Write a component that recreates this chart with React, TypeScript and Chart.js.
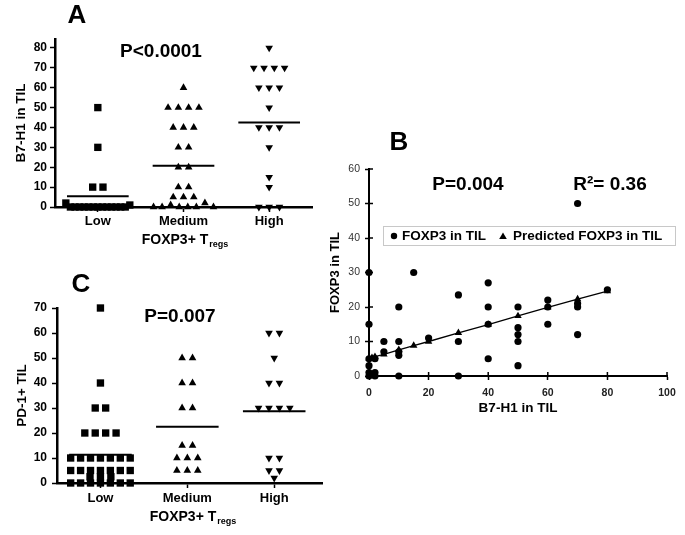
import React, { useEffect, useRef } from 'react';
import { Chart, registerables } from 'chart.js';
Chart.register(...registerables);

const FONT = "'Liberation Sans', Arial, Helvetica, sans-serif";

const groupLabels = ['Low', 'Medium', 'High'];

// Panel A: B7-H1 in TIL by FOXP3+ Treg group
const aLow = [2, 50, 30, 10, 10, 0, 0, 0, 0, 0, 0, 0, 0, 0, 0, 0, 0, 0, 1];
const aMedium = [60, 50, 50, 50, 50, 40, 40, 40, 30, 30, 20, 20, 10, 10, 5, 5, 5, 0, 0, 1, 0, 0, 0, 2, 0];
const aHigh = [80, 70, 70, 70, 70, 60, 60, 60, 50, 40, 40, 40, 30, 15, 10, 0, 0, 0];
const aYTicks = [0, 10, 20, 30, 40, 50, 60, 70, 80];

// Panel C: PD-1+ TIL by FOXP3+ Treg group
const cLow = [70, 40, 30, 30, 20, 20, 20, 20, 10, 10, 10, 10, 10, 10, 10, 5, 5, 5, 5, 5, 5, 5, 2.5, 2.5, 2.5, 0, 0, 0, 0, 0, 0, 0];
const cMedium = [50, 50, 40, 40, 30, 30, 15, 15, 10, 10, 10, 5, 5, 5];
const cHigh = [60, 60, 50, 40, 40, 30, 30, 30, 30, 10, 10, 5, 5, 2];
const cYTicks = [0, 10, 20, 30, 40, 50, 60, 70];

// Panel B: FOXP3 vs B7-H1 in TIL
const b7h1 = [0, 0, 0, 2, 0, 0, 2, 0, 2, 5, 5, 10, 10, 10, 10, 10, 15, 20, 30, 30, 30, 40, 40, 40, 40, 50, 50, 50, 50, 50, 60, 60, 60, 70, 70, 70, 70, 80];
const foxp3 = [30, 15, 5, 5, 3, 1, 1, 0, 0, 10, 7, 20, 10, 7, 6, 0, 30, 11, 23.5, 10, 0, 27, 20, 15, 5, 20, 14, 12, 10, 3, 22, 20, 15, 50, 21, 20, 12, 25];
const predB7 = [0, 1, 2, 5, 10, 15, 20, 30, 40, 50, 60, 70, 80];
const predFoxp3 = [5.1, 5.3, 5.6, 6.3, 7.6, 8.8, 10, 12.5, 14.9, 17.4, 19.9, 22.3, 24.6];
const bXTicks = [0, 20, 40, 60, 80, 100];
const bYTicks = [0, 10, 20, 30, 40, 50, 60];

function swarm(values: number[], center: number, step0: number, spread: number) {
  const order = values.map((_, i) => i).sort((a, b) => values[a] - values[b]);
  const rows: number[][] = [];
  let last = -Infinity;
  for (const i of order) {
    if (rows.length && values[i] - last <= 2) rows[rows.length - 1].push(i);
    else rows.push([i]);
    last = values[i];
  }
  const pts: { x: number; y: number }[] = [];
  for (const row of rows) {
    row.sort((a, b) => a - b);
    const n = row.length;
    const step = Math.min(step0, spread / n);
    row.forEach((idx, k) => pts.push({ x: center + (k - (n - 1) / 2) * step, y: values[idx] }));
  }
  return pts;
}

const mean = (a: number[]) => a.reduce((s, v) => s + v, 0) / a.length;

type TextItem = { text: string; x: number; y: number; size: number; weight?: string };

function drawTexts(ctx: CanvasRenderingContext2D, items: TextItem[]) {
  for (const t of items) {
    ctx.font = `${t.weight ?? 'bold'} ${t.size}px ${FONT}`;
    ctx.fillStyle = '#000';
    ctx.textAlign = 'center';
    ctx.textBaseline = 'middle';
    ctx.fillText(t.text, t.x, t.y);
  }
}

function drawSubTitle(ctx: CanvasRenderingContext2D, main: string, sub: string, cx: number, cy: number) {
  const big = `bold 14px ${FONT}`;
  const small = `bold 9px ${FONT}`;
  ctx.font = big;
  const w1 = ctx.measureText(main).width;
  ctx.font = small;
  const w2 = ctx.measureText(sub).width;
  const x0 = cx - (w1 + w2 + 1) / 2;
  ctx.fillStyle = '#000';
  ctx.textAlign = 'left';
  ctx.textBaseline = 'middle';
  ctx.font = big;
  ctx.fillText(main, x0, cy);
  ctx.font = small;
  ctx.fillText(sub, x0 + w1 + 1, cy + 5);
}

type DotOpts = {
  data: number[][];
  yMax: number;
  xMax: number;
  yTicks: number[];
  yTitle: string;
  yTitlePad: number;
  yTickPad: number;
  xTickPad: number;
  yW: number;
  xH: number;
  pad: { top: number; right: number; bottom: number };
  texts: TextItem[];
  xTitle: { x: number; y: number };
};

function dotPlotConfig(o: DotOpts): any {
  const styles = [
    { pointStyle: 'rect', pointRadius: 5.2, pointRotation: 0 },
    { pointStyle: 'triangle', pointRadius: 4.4, pointRotation: 0 },
    { pointStyle: 'triangle', pointRadius: 4.4, pointRotation: 180 },
  ];
  const datasets: any[] = [];
  o.data.forEach((vals, gi) => {
    const c = gi + 1;
    datasets.push({
      type: 'scatter',
      data: swarm(vals, c, 0.12, 0.8),
      ...styles[gi],
      backgroundColor: '#000',
      borderColor: '#000',
      borderWidth: 0,
      clip: false,
    });
  });
  o.data.forEach((vals, gi) => {
    const c = gi + 1;
    const m = mean(vals);
    datasets.push({
      type: 'line',
      data: [{ x: c - 0.36, y: m }, { x: c + 0.36, y: m }],
      borderColor: '#000',
      borderWidth: 2,
      pointRadius: 0,
      clip: false,
    });
  });
  return {
    type: 'scatter',
    data: { datasets },
    options: {
      animation: false,
      responsive: false,
      maintainAspectRatio: false,
      events: [],
      layout: { padding: { left: 0, top: o.pad.top, right: o.pad.right, bottom: o.pad.bottom } },
      plugins: { legend: { display: false }, tooltip: { enabled: false } },
      scales: {
        x: {
          type: 'linear',
          min: 0.5,
          max: o.xMax,
          afterBuildTicks: (s: any) => { s.ticks = groupLabels.map((_, i) => ({ value: i + 1 })); },
          afterFit: (s: any) => { s.height = o.xH; },
          ticks: {
            callback: (v: any) => groupLabels[Math.round(v) - 1] ?? '',
            font: { family: FONT, size: 13, weight: 'bold' },
            color: '#000',
            padding: o.xTickPad,
            maxRotation: 0,
            autoSkip: false,
          },
          grid: { drawOnChartArea: false, drawTicks: true, tickLength: 5, tickColor: '#000', tickWidth: 1.5 },
          border: { color: '#000', width: 2.5 },
        },
        y: {
          type: 'linear',
          min: 0,
          max: o.yMax,
          afterBuildTicks: (s: any) => { s.ticks = o.yTicks.map((v) => ({ value: v })); },
          afterFit: (s: any) => { s.width = o.yW; },
          ticks: {
            font: { family: FONT, size: 12, weight: 'bold' },
            color: '#000',
            padding: o.yTickPad,
          },
          grid: { drawOnChartArea: false, drawTicks: true, tickLength: 5, tickColor: '#000', tickWidth: 1.5 },
          border: { color: '#000', width: 2.5 },
          title: {
            display: true,
            text: o.yTitle,
            color: '#000',
            font: { family: FONT, size: 13.5, weight: 'bold' },
            padding: { top: o.yTitlePad, bottom: 0 },
          },
        },
      },
    },
    plugins: [
      {
        id: 'panelTexts',
        afterDraw(chart: any) {
          const ctx = chart.ctx as CanvasRenderingContext2D;
          ctx.save();
          drawTexts(ctx, o.texts);
          drawSubTitle(ctx, 'FOXP3+ T', 'regs', o.xTitle.x, o.xTitle.y);
          ctx.restore();
        },
      },
    ],
  };
}

function scatterConfig(): any {
  const circles = b7h1.map((x, i) => ({ x, y: foxp3[i] }));
  const predicted = predB7.map((x, i) => ({ x, y: predFoxp3[i] }));
  return {
    type: 'scatter',
    data: {
      datasets: [
        {
          label: 'FOXP3 in TIL',
          data: circles,
          pointStyle: 'circle',
          pointRadius: 3.6,
          backgroundColor: '#000',
          borderColor: '#000',
          borderWidth: 0,
          clip: false,
        },
        {
          label: 'Predicted FOXP3 in TIL',
          data: predicted,
          showLine: true,
          pointStyle: 'triangle',
          pointRadius: 4.3,
          backgroundColor: '#000',
          borderColor: '#000',
          borderWidth: 1.3,
          pointBorderWidth: 0,
          clip: false,
        },
      ],
    },
    options: {
      animation: false,
      responsive: false,
      maintainAspectRatio: false,
      events: [],
      layout: { padding: { left: 0, top: 49, right: 18, bottom: 4 } },
      plugins: { legend: { display: false }, tooltip: { enabled: false } },
      scales: {
        x: {
          type: 'linear',
          min: 0,
          max: 100,
          afterBuildTicks: (s: any) => { s.ticks = bXTicks.map((v) => ({ value: v })); },
          afterFit: (s: any) => { s.height = 40; },
          ticks: { font: { family: FONT, size: 10.5, weight: 'bold' }, color: '#222', padding: 7, maxRotation: 0, autoSkip: false },
          grid: { drawOnChartArea: false, drawTicks: true, tickLength: 4, tickColor: '#000', tickWidth: 1.5 },
          border: { color: '#000', width: 2 },
          title: {
            display: true,
            text: 'B7-H1 in TIL',
            color: '#000',
            font: { family: FONT, size: 13.5, weight: 'bold' },
            padding: { top: 0, bottom: 0 },
          },
        },
        y: {
          type: 'linear',
          min: 0,
          max: 60,
          afterBuildTicks: (s: any) => { s.ticks = bYTicks.map((v) => ({ value: v })); },
          afterFit: (s: any) => { s.width = 49; },
          ticks: { font: { family: FONT, size: 10.5 }, color: '#333', padding: 5 },
          grid: { drawOnChartArea: false, drawTicks: true, tickLength: 4, tickColor: '#000', tickWidth: 1.5 },
          border: { color: '#000', width: 2 },
          title: {
            display: true,
            text: 'FOXP3 in TIL',
            color: '#000',
            font: { family: FONT, size: 13, weight: 'bold' },
            padding: { top: 7.2, bottom: 0 },
          },
        },
      },
    },
    plugins: [
      {
        id: 'panelB',
        afterDraw(chart: any) {
          const ctx = chart.ctx as CanvasRenderingContext2D;
          const { left, bottom } = chart.chartArea;
          const xs = chart.scales.x;
          const ys = chart.scales.y;
          ctx.save();
          // inner halves of the crossing tick marks
          ctx.strokeStyle = '#000';
          ctx.lineWidth = 1.5;
          ctx.beginPath();
          for (const v of bXTicks) {
            const px = xs.getPixelForValue(v);
            ctx.moveTo(px, bottom);
            ctx.lineTo(px, bottom - 4);
          }
          for (const v of bYTicks) {
            const py = ys.getPixelForValue(v);
            ctx.moveTo(left, py);
            ctx.lineTo(left + 4, py);
          }
          ctx.stroke();
          drawTexts(ctx, [
            { text: 'B', x: 79, y: 23, size: 26 },
            { text: 'P=0.004', x: 148, y: 65, size: 19 },
            { text: 'R\u00B2= 0.36', x: 290, y: 65, size: 19 },
          ]);
          // legend box
          const bx = 63, by = 106, bw = 292, bh = 19;
          ctx.fillStyle = '#fff';
          ctx.fillRect(bx, by, bw, bh);
          ctx.strokeStyle = '#c8c8c8';
          ctx.lineWidth = 1;
          ctx.strokeRect(bx + 0.5, by + 0.5, bw, bh);
          const cy = by + bh / 2 + 0.5;
          ctx.fillStyle = '#000';
          ctx.beginPath();
          ctx.arc(74, cy, 3.2, 0, Math.PI * 2);
          ctx.fill();
          ctx.beginPath();
          ctx.moveTo(183, cy - 3.6);
          ctx.lineTo(186.8, cy + 3);
          ctx.lineTo(179.2, cy + 3);
          ctx.closePath();
          ctx.fill();
          ctx.font = `bold 13.5px ${FONT}`;
          ctx.textAlign = 'left';
          ctx.textBaseline = 'middle';
          ctx.fillText('FOXP3 in TIL', 82, cy);
          ctx.fillText('Predicted FOXP3 in TIL', 193, cy);
          ctx.restore();
        },
      },
    ],
  };
}

function useChart(ref: React.RefObject<HTMLCanvasElement>, make: () => any) {
  useEffect(() => {
    if (!ref.current) return;
    const chart = new Chart(ref.current, make());
    return () => chart.destroy();
  }, []);
}

export default function App() {
  const refA = useRef<HTMLCanvasElement>(null);
  const refB = useRef<HTMLCanvasElement>(null);
  const refC = useRef<HTMLCanvasElement>(null);

  useChart(refA, () =>
    dotPlotConfig({
      data: [aLow, aMedium, aHigh],
      yMax: 84.5,
      xMax: 3.5,
      yTicks: aYTicks,
      yTitle: 'B7-H1 in TIL',
      yTitlePad: 13,
      yTickPad: 3,
      xTickPad: 2,
      yW: 55,
      xH: 30,
      pad: { top: 39, right: 18, bottom: 23 },
      texts: [
        { text: 'A', x: 77, y: 16, size: 26 },
        { text: 'P<0.0001', x: 161, y: 52, size: 19 },
      ],
      xTitle: { x: 185, y: 240 },
    })
  );
  useChart(refC, () =>
    dotPlotConfig({
      data: [cLow, cMedium, cHigh],
      yMax: 70,
      xMax: 3.55,
      yTicks: cYTicks,
      yTitle: 'PD-1+ TIL',
      yTitlePad: 14,
      yTickPad: 5,
      xTickPad: 3,
      yW: 57,
      xH: 30,
      pad: { top: 48, right: 8, bottom: 22 },
      texts: [
        { text: 'C', x: 81, y: 25, size: 26 },
        { text: 'P=0.007', x: 180, y: 57, size: 19 },
      ],
      xTitle: { x: 193, y: 257 },
    })
  );
  useChart(refB, scatterConfig);

  const cs = (l: number, t: number, w: number, h: number): React.CSSProperties => ({
    position: 'absolute',
    left: l,
    top: t,
    width: w,
    height: h,
  });

  return (
    <div style={{ position: 'fixed', left: 0, top: 0, width: 685, height: 535, background: '#fff', overflow: 'hidden' }}>
      <canvas ref={refA} width={330} height={260} style={cs(0, 0, 330, 260)} />
      <canvas ref={refC} width={330} height={275} style={cs(0, 260, 330, 275)} />
      <canvas ref={refB} width={365} height={300} style={cs(320, 120, 365, 300)} />
    </div>
  );
}
